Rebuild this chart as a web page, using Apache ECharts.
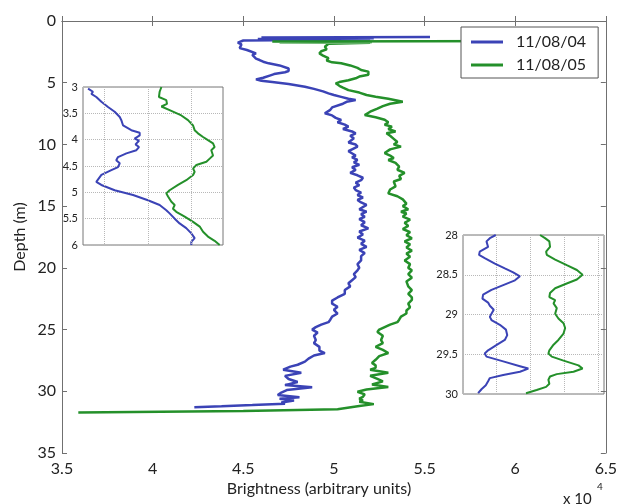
<!DOCTYPE html>
<html>
<head>
<meta charset="utf-8">
<script src="https://cdn.jsdelivr.net/npm/echarts@6/dist/echarts.min.js"></script>
<style>
html, body { margin: 0; padding: 0; background: #fff; }
#main { width: 620px; height: 504px; }
</style>
</head>
<body>
<div id="main"></div>
<script>
// 亮度剖面, brightness in units of 10^4
var seriesNames = ['11/08/04', '11/08/05'];
var xTicks = [3.5, 4, 4.5, 5, 5.5, 6, 6.5];
var yTicks = [0, 5, 10, 15, 20, 25, 30, 35];

var depth04 = [1.30,1.33,1.40,1.45,1.50,1.58,1.75,1.90,2.05,2.20,2.35,2.50,2.62,2.75,2.89,3.05,3.16,3.30,3.43,3.60,3.75,3.85,3.95,4.05,4.15,4.22,4.30,4.40,4.50,4.60,4.73,4.85,4.95,5.10,5.32,5.50,5.70,5.86,6.00,6.15,6.30,6.40,6.55,6.70,6.85,7.00,7.20,7.48,7.65,7.85,8.02,8.20,8.40,8.56,8.75,8.95,9.10,9.30,9.50,9.64,9.85,10.00,10.18,10.40,10.55,10.70,10.90,11.05,11.26,11.45,11.65,11.85,12.07,12.30,12.50,12.70,12.90,13.10,13.30,13.50,13.70,13.90,14.10,14.30,14.50,14.70,14.90,15.05,15.25,15.45,15.65,15.86,16.05,16.30,16.55,16.80,17.05,17.30,17.55,17.80,18.05,18.30,18.55,18.80,19.05,19.40,19.70,20.00,20.20,20.50,20.75,21.00,21.25,21.50,21.80,22.10,22.40,22.65,22.90,23.15,23.40,23.70,23.95,24.20,24.40,24.60,24.80,25.00,25.25,25.50,25.85,26.10,26.40,26.70,26.90,27.10,27.35,27.60,27.85,28.00,28.25,28.50,28.75,29.00,29.25,29.50,29.68,29.90,30.10,30.30,30.40,30.48,30.60,30.75,30.90,31.00,31.12,31.22,31.30];
var bright04 = [5.53,4.60,5.22,4.58,5.20,4.50,4.47,4.49,4.50,4.48,4.52,4.53,4.57,4.55,4.54,4.57,4.59,4.61,4.64,4.70,4.71,4.75,4.74,4.75,4.73,4.74,4.67,4.65,4.66,4.61,4.57,4.60,4.66,4.75,4.84,4.89,4.94,4.97,5.00,5.04,5.08,5.12,5.07,5.05,5.04,4.99,4.98,4.95,4.99,5.01,5.04,5.02,5.06,5.08,5.05,5.10,5.12,5.09,5.11,5.10,5.08,5.12,5.13,5.10,5.08,5.08,5.12,5.10,5.13,5.11,5.14,5.10,5.12,5.09,5.13,5.16,5.15,5.12,5.14,5.11,5.12,5.15,5.13,5.16,5.13,5.15,5.18,5.17,5.14,5.18,5.15,5.17,5.14,5.17,5.15,5.19,5.14,5.16,5.13,5.17,5.15,5.18,5.14,5.17,5.15,5.15,5.13,5.14,5.13,5.11,5.12,5.10,5.08,5.09,5.06,5.06,5.02,4.99,4.99,5.02,5.00,5.02,4.99,4.98,4.97,4.93,4.90,4.88,4.91,4.89,4.90,4.89,4.92,4.92,4.95,4.89,4.86,4.84,4.80,4.76,4.72,4.82,4.73,4.75,4.80,4.73,4.88,4.74,4.71,4.69,4.68,4.81,4.70,4.78,4.71,4.73,4.55,4.38,4.23];

var depth05 = [1.62,1.66,1.70,1.73,1.76,1.85,2.08,2.30,2.45,2.62,2.80,3.00,3.20,3.35,3.43,3.60,3.80,3.97,4.10,4.20,4.35,4.50,4.64,4.80,4.95,5.05,5.25,5.40,5.60,5.80,6.00,6.13,6.30,6.54,6.70,6.90,7.10,7.35,7.62,7.80,8.00,8.20,8.40,8.56,8.75,8.95,9.10,9.30,9.55,9.80,10.00,10.18,10.40,10.70,10.90,11.10,11.26,11.50,11.80,12.05,12.30,12.55,12.80,13.00,13.15,13.40,13.65,13.97,14.20,14.45,14.80,15.00,15.25,15.45,15.60,15.85,16.10,16.35,16.60,16.85,17.10,17.35,17.60,17.85,18.10,18.35,18.60,18.85,19.10,19.40,19.70,20.00,20.20,20.50,20.80,21.10,21.50,21.80,22.10,22.40,22.60,22.90,23.20,23.45,23.70,23.95,24.20,24.40,24.60,24.80,25.00,25.20,25.50,25.85,26.10,26.40,26.65,26.90,27.15,27.45,27.70,27.90,28.10,28.25,28.50,28.75,29.00,29.20,29.45,29.65,29.85,30.04,30.25,30.45,30.60,30.75,30.85,30.95,31.04,31.20,31.45,31.60,31.72];
var bright05 = [6.30,4.66,5.21,4.70,5.20,4.97,4.95,4.96,4.93,4.92,4.94,4.97,4.96,4.99,5.04,5.09,5.13,5.15,5.19,5.20,5.19,5.14,5.12,5.08,5.03,5.01,5.03,5.05,5.08,5.14,5.18,5.23,5.30,5.38,5.31,5.27,5.24,5.20,5.17,5.23,5.28,5.30,5.28,5.32,5.30,5.34,5.29,5.31,5.33,5.35,5.33,5.37,5.31,5.28,5.31,5.33,5.30,5.34,5.36,5.35,5.39,5.36,5.37,5.33,5.32,5.34,5.31,5.30,5.35,5.38,5.40,5.38,5.41,5.37,5.40,5.38,5.42,5.39,5.41,5.38,5.42,5.40,5.43,5.39,5.42,5.40,5.43,5.40,5.42,5.39,5.42,5.41,5.43,5.41,5.43,5.40,5.41,5.43,5.41,5.43,5.43,5.41,5.42,5.40,5.40,5.37,5.36,5.35,5.31,5.28,5.25,5.24,5.27,5.26,5.27,5.23,5.27,5.30,5.25,5.23,5.21,5.23,5.23,5.20,5.30,5.20,5.24,5.27,5.21,5.30,5.18,5.13,5.17,5.16,5.14,5.16,5.14,5.13,5.22,5.14,5.02,4.50,3.59];

// inset 1: 3 - 6 m
var in1Depth04 = [3.03,3.09,3.13,3.19,3.28,3.38,3.47,3.57,3.63,3.73,3.82,3.87,3.92,3.98,4.02,4.09,4.14,4.20,4.26,4.33,4.39,4.45,4.52,4.58,4.67,4.80,4.86,4.96,5.05,5.15,5.24,5.34,5.40,5.50,5.59,5.68,5.78,5.87,5.94,6.00];
var in1Bright04 = [4.529,4.557,4.548,4.576,4.605,4.643,4.681,4.710,4.719,4.729,4.776,4.824,4.824,4.795,4.820,4.800,4.820,4.805,4.748,4.700,4.690,4.710,4.700,4.662,4.605,4.576,4.605,4.681,4.786,4.871,4.938,4.976,4.995,5.024,5.052,5.090,5.119,5.138,5.119,5.119];
var in1Depth05 = [3.00,3.09,3.19,3.25,3.32,3.37,3.44,3.54,3.63,3.73,3.82,3.88,3.95,4.01,4.07,4.14,4.20,4.30,4.36,4.42,4.48,4.55,4.61,4.67,4.77,4.86,4.96,5.02,5.08,5.18,5.24,5.31,5.37,5.46,5.56,5.65,5.75,5.84,5.92,6.00];
var in1Bright05 = [4.948,4.938,4.934,4.976,4.980,4.948,4.995,5.062,5.100,5.129,5.138,5.157,5.186,5.214,5.243,5.252,5.233,5.243,5.224,5.205,5.148,5.129,5.138,5.129,5.090,5.043,4.995,4.976,4.986,5.005,5.024,5.014,5.033,5.081,5.129,5.167,5.186,5.214,5.252,5.281];
var in1GridX = [4.615, 4.87, 5.12];

// inset 2: 28 - 30 m
var in2Depth04 = [28.00,28.04,28.08,28.15,28.21,28.25,28.29,28.36,28.42,28.47,28.52,28.57,28.63,28.69,28.75,28.80,28.85,28.89,28.94,28.99,29.03,29.07,29.13,29.19,29.26,29.32,29.38,29.45,29.49,29.53,29.59,29.65,29.68,29.72,29.76,29.80,29.84,29.89,29.94,29.99];
var in2Bright04 = [4.743,4.699,4.674,4.686,4.624,4.619,4.661,4.736,4.810,4.872,4.922,4.885,4.798,4.711,4.649,4.644,4.686,4.699,4.728,4.711,4.699,4.711,4.773,4.818,4.828,4.810,4.753,4.686,4.661,4.674,4.798,4.922,4.984,4.922,4.798,4.699,4.686,4.669,4.637,4.612];
var in2Depth05 = [28.00,28.04,28.08,28.15,28.21,28.25,28.31,28.38,28.44,28.50,28.56,28.61,28.67,28.73,28.78,28.82,28.86,28.92,28.99,29.05,29.11,29.17,29.24,29.32,29.38,29.45,29.49,29.53,29.58,29.64,29.68,29.72,29.75,29.78,29.82,29.87,29.91,29.95,29.99];
var in2Bright05 = [5.071,5.108,5.140,5.145,5.116,5.121,5.183,5.269,5.344,5.386,5.344,5.269,5.183,5.145,5.140,5.183,5.171,5.195,5.183,5.207,5.245,5.257,5.245,5.207,5.171,5.140,5.133,5.158,5.245,5.356,5.386,5.319,5.195,5.145,5.133,5.140,5.116,5.046,4.967];

var BLUE = '#3b43b6';
var GREEN = '#24902a';
var FONT = 'Lato';

function pairs(xs, ys) {
	return xs.map(function (x, i) { return [x, ys[i]]; });
}

var myChart = echarts.init(document.getElementById('main'));

var axisGrey = { lineStyle: { color: '#707070', width: 1 } };
var dotted = { show: true, lineStyle: { type: 'dotted', color: '#b8b8b8', width: 1 } };

function line(name, data, color, xi, yi, width) {
	return {
		name: name,
		type: 'line',
		xAxisIndex: xi,
		yAxisIndex: yi,
		data: data,
		showSymbol: false,
		symbol: 'none',
		smooth: false,
		animation: false,
		lineStyle: { color: color, width: width },
		itemStyle: { color: color }
	};
}

var inset1Blue = line('inset', pairs(in1Bright04, in1Depth04), BLUE, 2, 2, 2);
// 竖向网格线
inset1Blue.markLine = {
	silent: true,
	symbol: 'none',
	label: { show: false },
	lineStyle: { type: 'dotted', color: '#b8b8b8', width: 1 },
	data: in1GridX.map(function (v) { return { xAxis: v }; })
};

myChart.setOption({
	backgroundColor: '#fff',
	animation: false,
	textStyle: { fontFamily: FONT },
	grid: [
		{ left: 62, top: 21, right: 12, bottom: 51 },
		{ left: 83, top: 87, width: 140, height: 158, show: true, backgroundColor: '#fff', borderColor: '#777', borderWidth: 1 },
		{ left: 463, top: 235, width: 141, height: 159, show: true, backgroundColor: '#fff', borderColor: '#777', borderWidth: 1 }
	],
	legend: {
		data: seriesNames,
		orient: 'vertical',
		left: 461,
		top: 27,
		padding: [7, 12, 5, 10],
		itemGap: 7,
		itemWidth: 32,
		itemHeight: 3,
		icon: 'rect',
		backgroundColor: '#fff',
		borderColor: '#555',
		borderWidth: 1,
		borderRadius: 0,
		textStyle: { fontFamily: FONT, fontSize: 16, color: '#222', lineHeight: 16, padding: [0, 0, 0, 8] },
		z: 10
	},
	xAxis: [
		{
			gridIndex: 0, type: 'value', position: 'bottom', min: 3.5, max: 6.5, interval: 0.5,
			axisLine: axisGrey,
			axisTick: { inside: true, length: 5, lineStyle: { color: '#707070' } },
			axisLabel: { fontSize: 16, color: '#222', margin: 8, fontFamily: FONT,
				formatter: function (v) { return xTicks.indexOf(v) >= 0 ? String(v) : ''; } },
			splitLine: { show: false }
		},
		{
			gridIndex: 0, type: 'value', position: 'top', min: 3.5, max: 6.5, interval: 0.5,
			axisLine: axisGrey,
			axisTick: { inside: true, length: 5, lineStyle: { color: '#707070' } },
			axisLabel: { show: false },
			splitLine: { show: false }
		},
		{
			gridIndex: 1, type: 'value', min: 4.5, max: 5.3,
			axisLine: { show: false }, axisTick: { show: false },
			axisLabel: { show: false }, splitLine: { show: false }
		},
		{
			gridIndex: 2, type: 'value', min: 4.5, max: 5.545, interval: 0.25,
			axisLine: { show: false }, axisTick: { show: false },
			axisLabel: { show: false }, splitLine: dotted
		}
	],
	yAxis: [
		{
			gridIndex: 0, type: 'value', position: 'left', inverse: true, min: 0, max: 35, interval: 5,
			axisLine: axisGrey,
			axisTick: { inside: true, length: 5, lineStyle: { color: '#707070' } },
			axisLabel: { fontSize: 16, color: '#222', margin: 6, fontFamily: FONT,
				formatter: function (v) { return yTicks.indexOf(v) >= 0 ? String(v) : ''; } },
			splitLine: { show: false }
		},
		{
			gridIndex: 0, type: 'value', position: 'right', inverse: true, min: 0, max: 35, interval: 5,
			axisLine: axisGrey,
			axisTick: { inside: true, length: 5, lineStyle: { color: '#707070' } },
			axisLabel: { show: false },
			splitLine: { show: false }
		},
		{
			gridIndex: 1, type: 'value', inverse: true, min: 3, max: 6, interval: 0.5,
			axisLine: { show: false }, axisTick: { show: false },
			axisLabel: { fontSize: 11, color: '#222', margin: 5, fontFamily: FONT },
			splitLine: dotted
		},
		{
			gridIndex: 2, type: 'value', inverse: true, min: 28, max: 30, interval: 0.5,
			axisLine: { show: false }, axisTick: { show: false },
			axisLabel: { fontSize: 11, color: '#222', margin: 5, fontFamily: FONT },
			splitLine: dotted
		}
	],
	series: [
		line(seriesNames[0], pairs(bright04, depth04), BLUE, 0, 0, 2.5),
		line(seriesNames[1], pairs(bright05, depth05), GREEN, 0, 0, 2.5),
		inset1Blue,
		line('inset', pairs(in1Bright05, in1Depth05), GREEN, 2, 2, 2),
		line('inset', pairs(in2Bright04, in2Depth04), BLUE, 3, 3, 2),
		line('inset', pairs(in2Bright05, in2Depth05), GREEN, 3, 3, 2)
	],
	graphic: [
		{ type: 'text', x: 319, y: 489, style: { text: 'Brightness (arbitrary units)', font: '16px ' + FONT, fill: '#222', align: 'center', verticalAlign: 'middle' } },
		{ type: 'text', x: 20, y: 237, rotation: Math.PI / 2, style: { text: 'Depth (m)', font: '16px ' + FONT, fill: '#222', align: 'center', verticalAlign: 'middle' } },
		{ type: 'text', x: 563, y: 492, style: { text: 'x 10', font: '15px ' + FONT, fill: '#222', align: 'left', verticalAlign: 'top' } },
		{ type: 'text', x: 597, y: 482, style: { text: '4', font: '10px ' + FONT, fill: '#222', align: 'left', verticalAlign: 'top' } }
	]
});
</script>
</body>
</html>
